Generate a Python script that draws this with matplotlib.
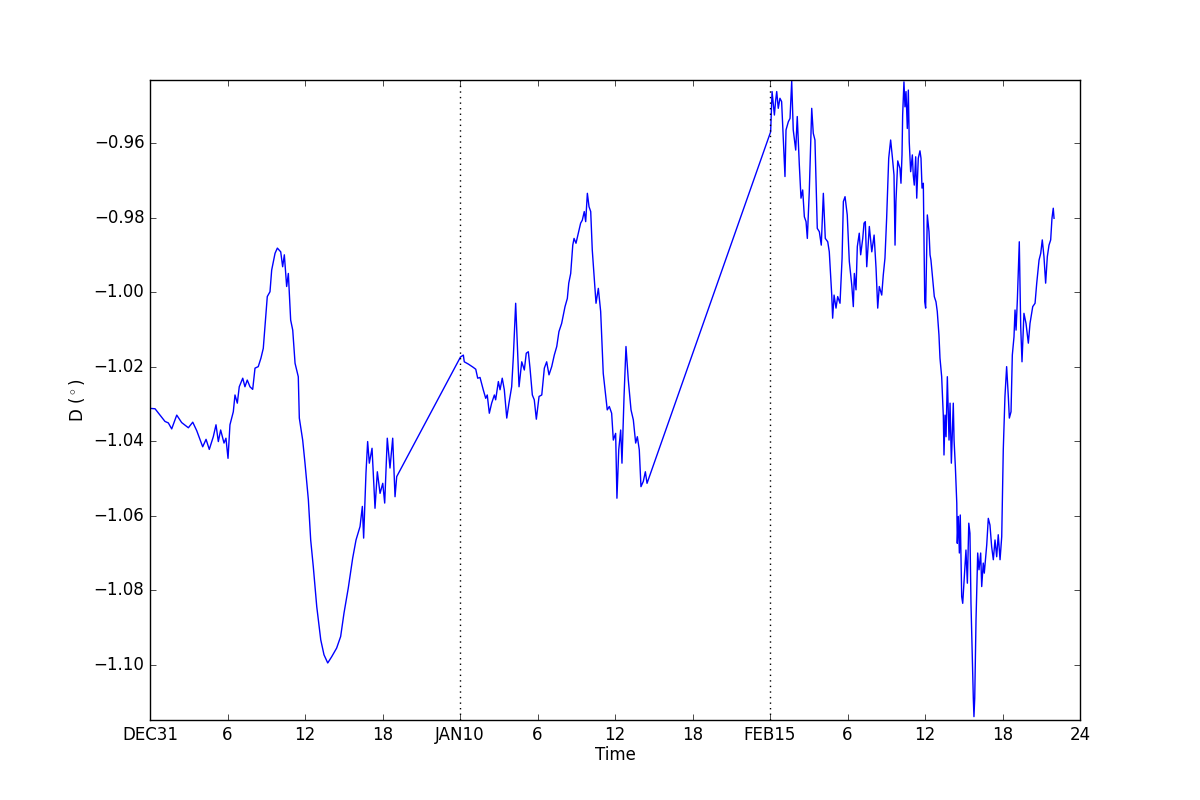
import matplotlib
matplotlib.use("Agg")
import matplotlib.pyplot as plt
from matplotlib.ticker import FixedLocator, FuncFormatter

# ---- data (hours since start of plotted window, declination in degrees) ----
seg1_hours = [0, 0.39, 0.77, 1.16, 1.42, 1.68, 2.07, 2.45, 2.97, 3.31, 3.62, 4.08, 4.34, 4.59, 4.90,
              5.11, 5.29, 5.47, 5.73, 5.88, 6.04, 6.19, 6.45, 6.58, 6.76, 6.91, 7.18, 7.35, 7.53, 7.74,
              7.95, 8.13, 8.38, 8.59, 8.77, 8.90, 9.08, 9.29, 9.42, 9.68, 9.86, 10.12, 10.27, 10.40,
              10.58, 10.71, 10.89, 11.05, 11.23, 11.48, 11.56, 11.82, 12.00, 12.26, 12.44, 12.64,
              12.91, 13.22, 13.47, 13.76, 14.07, 14.45, 14.76, 15.02, 15.35, 15.69, 15.95, 16.26,
              16.44, 16.54, 16.72, 16.85, 16.98, 17.19, 17.42, 17.60, 17.81, 18.02, 18.17, 18.37,
              18.58, 18.79, 18.97, 19.10]
seg1_values = [-1.0312, -1.0313, -1.0330, -1.0347, -1.0351, -1.0367, -1.0330, -1.0350, -1.0364, -1.0349,
               -1.0372, -1.0415, -1.0395, -1.0422, -1.0388, -1.0356, -1.0401, -1.0370, -1.0405, -1.0392,
               -1.0446, -1.0356, -1.0321, -1.0276, -1.0298, -1.0254, -1.0231, -1.0254, -1.0236, -1.0254,
               -1.0261, -1.0204, -1.0200, -1.0177, -1.0151, -1.0093, -1.0012, -0.9999, -0.9941, -0.9896,
               -0.9882, -0.9892, -0.9932, -0.9900, -0.9985, -0.9950, -1.0075, -1.0102, -1.0191, -1.0227,
               -1.0338, -1.0397, -1.0459, -1.0557, -1.0665, -1.0736, -1.0844, -1.0933, -1.0973, -1.0995,
               -1.0978, -1.0955, -1.0924, -1.0861, -1.0794, -1.0714, -1.0665, -1.0629, -1.0575, -1.0660,
               -1.0486, -1.0401, -1.0459, -1.0419, -1.0580, -1.0482, -1.0540, -1.0513, -1.0566, -1.0392,
               -1.0472, -1.0392, -1.0549, -1.0495]

seg2_hours = [24.04, 24.26, 24.33, 24.64, 25.03, 25.22, 25.37, 25.55, 25.80, 25.99, 26.11, 26.27, 26.45,
              26.66, 26.76, 26.97, 27.10, 27.27, 27.43, 27.62, 27.79, 28.00, 28.13, 28.31, 28.57, 28.78,
              28.98, 29.13, 29.29, 29.42, 29.60, 29.75, 29.91, 30.12, 30.33, 30.53, 30.71, 30.89, 31.10,
              31.30, 31.49, 31.66, 31.87, 32.13, 32.31, 32.42, 32.57, 32.73, 32.83, 32.98, 33.16, 33.34,
              33.47, 33.62, 33.73, 33.86, 33.99, 34.12, 34.24, 34.40, 34.53, 34.71, 34.89, 35.09, 35.23,
              35.40, 35.56, 35.74, 35.87, 36.05, 36.15, 36.29, 36.44, 36.54, 36.70, 36.85, 37.03, 37.24,
              37.42, 37.60, 37.73, 37.88, 38.01, 38.19, 38.35, 38.48]
seg2_values = [-1.0174, -1.0169, -1.0187, -1.0193, -1.0202, -1.0207, -1.0231, -1.0229, -1.0262, -1.0285,
               -1.0276, -1.0325, -1.0298, -1.0276, -1.0289, -1.0240, -1.0262, -1.0231, -1.0262, -1.0338,
               -1.0298, -1.0254, -1.0173, -1.0030, -1.0254, -1.0187, -1.0209, -1.0164, -1.0160, -1.0204,
               -1.0276, -1.0289, -1.0341, -1.0280, -1.0276, -1.0204, -1.0187, -1.0222, -1.0200, -1.0169,
               -1.0146, -1.0106, -1.0084, -1.0039, -1.0017, -0.9976, -0.9950, -0.9874, -0.9856, -0.9869,
               -0.9842, -0.9815, -0.9807, -0.9784, -0.9811, -0.9735, -0.9771, -0.9784, -0.9887, -0.9967,
               -1.0030, -0.9990, -1.0052, -1.0218, -1.0262, -1.0316, -1.0307, -1.0325, -1.0397, -1.0379,
               -1.0553, -1.0423, -1.0370, -1.0459, -1.0280, -1.0146, -1.0236, -1.0316, -1.0343, -1.0405,
               -1.0388, -1.0423, -1.0522, -1.0508, -1.0482, -1.0513]

seg3_hours = [48.05, 48.16, 48.26, 48.34, 48.44, 48.52, 48.64, 48.77, 48.90, 49.03, 49.16, 49.24, 49.42,
              49.55, 49.68, 49.80, 49.99, 50.11, 50.27, 50.40, 50.53, 50.66, 50.79, 50.89, 51.04, 51.23,
              51.35, 51.48, 51.66, 51.82, 51.97, 52.13, 52.28, 52.47, 52.59, 52.78, 52.85, 52.96, 53.11,
              53.24, 53.42, 53.58, 53.68, 53.81, 53.98, 54.14, 54.33, 54.45, 54.53, 54.66, 54.76, 54.91,
              55.02, 55.18, 55.28, 55.38, 55.49, 55.69, 55.88, 56.06, 56.21, 56.34, 56.46, 56.65, 56.77,
              56.90, 57.03, 57.19, 57.34, 57.47, 57.60, 57.68, 57.75, 57.89, 58.06, 58.14, 58.22, 58.27,
              58.37, 58.45, 58.53, 58.63, 58.71, 58.78, 58.89, 59.02, 59.09, 59.17, 59.28, 59.36, 59.48,
              59.61, 59.69, 59.77, 59.87, 59.98, 60.05, 60.18, 60.31, 60.39, 60.46, 60.54, 60.72, 60.85,
              60.95, 61.08, 61.16, 61.29, 61.42, 61.47, 61.55, 61.63, 61.73, 61.86, 61.94, 62.04, 62.19,
              62.25, 62.35, 62.46, 62.50, 62.58, 62.66, 62.73, 62.84, 62.92, 63.05, 63.17, 63.28, 63.39,
              63.48, 63.56, 63.64, 63.74, 63.79, 63.85, 63.95, 64.08, 64.18, 64.31, 64.39, 64.51, 64.59,
              64.72, 64.78, 64.90, 65.03, 65.16, 65.29, 65.42, 65.55, 65.67, 65.81, 65.94, 66.06, 66.19,
              66.32, 66.45, 66.53, 66.66, 66.76, 66.89, 66.97, 67.05, 67.15, 67.30, 67.41, 67.51, 67.66,
              67.82, 68.00, 68.13, 68.34, 68.52, 68.65, 68.83, 68.96, 69.08, 69.21, 69.34, 69.47, 69.60,
              69.73, 69.83, 69.93, 69.99]
seg3_values = [-0.9570, -0.9462, -0.9498, -0.9525, -0.9485, -0.9462, -0.9507, -0.9480, -0.9489, -0.9587,
               -0.9690, -0.9565, -0.9543, -0.9534, -0.9434, -0.9565, -0.9619, -0.9529, -0.9659, -0.9748,
               -0.9726, -0.9798, -0.9811, -0.9856, -0.9731, -0.9507, -0.9574, -0.9592, -0.9829, -0.9838,
               -0.9874, -0.9735, -0.9856, -0.9865, -0.9892, -1.0008, -1.0070, -1.0008, -1.0043, -1.0012,
               -1.0030, -0.9909, -0.9757, -0.9744, -0.9793, -0.9918, -0.9981, -1.0039, -0.9950, -0.9994,
               -0.9878, -0.9842, -0.9900, -0.9856, -0.9815, -0.9811, -0.9932, -0.9824, -0.9892, -0.9847,
               -0.9936, -1.0043, -0.9985, -1.0008, -0.9954, -0.9909, -0.9802, -0.9641, -0.9592, -0.9637,
               -0.9686, -0.9874, -0.9757, -0.9648, -0.9668, -0.9708, -0.9632, -0.9525, -0.9436, -0.9503,
               -0.9462, -0.9561, -0.9458, -0.9597, -0.9677, -0.9632, -0.9686, -0.9713, -0.9637, -0.9748,
               -0.9641, -0.9621, -0.9641, -0.9721, -0.9708, -1.0026, -1.0043, -0.9793, -0.9838, -0.9900,
               -0.9914, -0.9945, -1.0012, -1.0026, -1.0052, -1.0115, -1.0177, -1.0227, -1.0334, -1.0437,
               -1.0330, -1.0388, -1.0227, -1.0397, -1.0298, -1.0459, -1.0298, -1.0397, -1.0468, -1.0566,
               -1.0674, -1.0602, -1.0700, -1.0598, -1.0817, -1.0835, -1.0763, -1.0692, -1.0781, -1.0620,
               -1.0647, -1.0835, -1.0951, -1.1089, -1.1139, -1.1089, -1.0879, -1.0700, -1.0745, -1.0700,
               -1.0790, -1.0727, -1.0754, -1.0700, -1.0678, -1.0607, -1.0625, -1.0683, -1.0718, -1.0665,
               -1.0710, -1.0651, -1.0718, -1.0656, -1.0423, -1.0280, -1.0200, -1.0280, -1.0338, -1.0321,
               -1.0169, -1.0120, -1.0048, -1.0102, -1.0021, -0.9865, -1.0093, -1.0187, -1.0057, -1.0084,
               -1.0137, -1.0084, -1.0039, -1.0030, -0.9976, -0.9914, -0.9896, -0.9860, -0.9905, -0.9976,
               -0.9905, -0.9874, -0.9860, -0.9802, -0.9775, -0.9802]

tick_positions = [0, 6, 12, 18, 24, 30, 36, 42, 48, 54, 60, 66, 72]
tick_labels = ["DEC31", "6", "12", "18", "JAN10", "6", "12", "18", "FEB15", "6", "12", "18", "24"]
day_boundaries = [24, 48]
y_ticks = [-1.10, -1.08, -1.06, -1.04, -1.02, -1.00, -0.98, -0.96]

# ---- plot ----
plt.style.use("classic")
plt.rcParams["figure.facecolor"] = "white"
plt.rcParams["savefig.facecolor"] = "white"

fig = plt.figure(figsize=(12, 8), dpi=100)
ax = fig.add_subplot(111)

hours = seg1_hours + seg2_hours + seg3_hours
values = seg1_values + seg2_values + seg3_values
ax.plot(hours, values, color="b", linewidth=1)

for b in day_boundaries:
    ax.axvline(b, color="k", linestyle=":", linewidth=1)

ax.set_xlim(0, 72)
ax.set_ylim(-1.1148, -0.9431)
ax.xaxis.set_major_locator(FixedLocator(tick_positions))
ax.set_xticklabels(tick_labels)
ax.yaxis.set_major_locator(FixedLocator(y_ticks))
ax.yaxis.set_major_formatter(FuncFormatter(lambda v, p: ("%.2f" % v).replace("-", "\u2212")))

ax.set_xlabel("Time", labelpad=1.5)
ax.set_ylabel(r"D ($^\circ$)")

fig.savefig("out.png", dpi=100)
